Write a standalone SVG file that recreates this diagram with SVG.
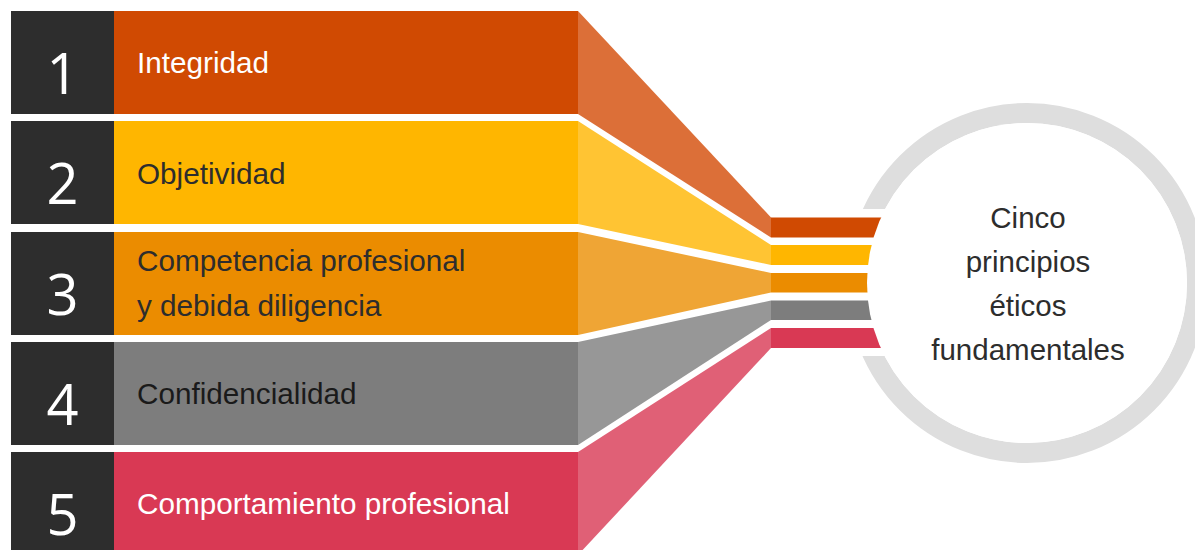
<svg xmlns="http://www.w3.org/2000/svg" width="1195" height="550" viewBox="0 0 1195 550">
<style>
.num{font-family:"Open Sans","Liberation Sans",sans-serif;font-size:56px;fill:#ffffff;text-anchor:middle}
.lbl{font-family:"Liberation Sans",Arial,sans-serif;font-size:29.7px}
.ctr{font-family:"Liberation Sans",Arial,sans-serif;font-size:29.5px;fill:#2d2d2d;text-anchor:middle}
.dark{fill:#2d2d2d}
</style>
<rect width="1195" height="550" fill="#ffffff"/>
<g id="ring">
<circle cx="1027" cy="283" r="170" fill="#ffffff" stroke="#dedede" stroke-width="20"/>
<rect x="835" y="209" width="65" height="147" fill="#ffffff"/>
</g>
<g id="connectors">
<polygon points="578,11 771,217.5 771,237.5 578,114" fill="#dc6f38"/>
<polygon points="578,121 771,245 771,265 578,224" fill="#ffc433"/>
<polygon points="578,232 771,273 771,292.5 578,335" fill="#efa535"/>
<polygon points="578,342 771,300.5 771,320 578,445" fill="#979797"/>
<polygon points="578,452 771,328 771,348 578,555" fill="#e06076"/>
<rect x="771" y="217.5" width="130" height="20" fill="#d04a02"/>
<rect x="771" y="245" width="130" height="20" fill="#ffb600"/>
<rect x="771" y="273" width="130" height="19.5" fill="#eb8c00"/>
<rect x="771" y="300.5" width="130" height="19.5" fill="#7d7d7d"/>
<rect x="771" y="328" width="130" height="20" fill="#d93954"/>
</g>
<g id="center">
<circle cx="1027" cy="283" r="160" fill="#ffffff"/>
<text class="ctr" x="1028" y="228">Cinco</text>
<text class="ctr" x="1028" y="272">principios</text>
<text class="ctr" x="1028" y="316">éticos</text>
<text class="ctr" x="1028" y="360">fundamentales</text>
</g>
<g id="row1">
<rect x="11" y="11" width="103" height="103" class="dark"/>
<rect x="114" y="11" width="464" height="103" fill="#d04a02"/>
<text class="num" x="62.5" y="94">1</text>
<text class="lbl" x="137" y="73" fill="#ffffff">Integridad</text>
</g>
<g id="row2">
<rect x="11" y="121" width="103" height="103" class="dark"/>
<rect x="114" y="121" width="464" height="103" fill="#ffb600"/>
<text class="num" x="62.5" y="204">2</text>
<text class="lbl" x="137" y="184" fill="#2d2d2d">Objetividad</text>
</g>
<g id="row3">
<rect x="11" y="232" width="103" height="103" class="dark"/>
<rect x="114" y="232" width="464" height="103" fill="#eb8c00"/>
<text class="num" x="62.5" y="315">3</text>
<text class="lbl" x="137" y="271" fill="#2d2d2d">Competencia profesional</text>
<text class="lbl" x="137" y="316" fill="#2d2d2d">y debida diligencia</text>
</g>
<g id="row4">
<rect x="11" y="342" width="103" height="103" class="dark"/>
<rect x="114" y="342" width="464" height="103" fill="#7d7d7d"/>
<text class="num" x="62.5" y="425">4</text>
<text class="lbl" x="137" y="404" fill="#1a1a1a">Confidencialidad</text>
</g>
<g id="row5">
<rect x="11" y="452" width="103" height="103" class="dark"/>
<rect x="114" y="452" width="464" height="103" fill="#d93954"/>
<text class="num" x="62.5" y="535">5</text>
<text class="lbl" x="137" y="514" fill="#ffffff">Comportamiento profesional</text>
</g>
</svg>
